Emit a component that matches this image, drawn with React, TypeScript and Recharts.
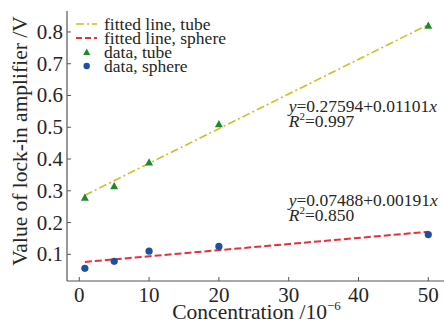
import React from 'react';
import { ComposedChart, Line, Scatter, XAxis, YAxis, ReferenceDot } from 'recharts';

const tubeData = [
  { x: 0.8, y: 0.279 },
  { x: 5, y: 0.315 },
  { x: 10, y: 0.39 },
  { x: 20, y: 0.51 },
  { x: 50, y: 0.82 },
];
const sphereData = [
  { x: 0.8, y: 0.056 },
  { x: 5, y: 0.078 },
  { x: 10, y: 0.11 },
  { x: 20, y: 0.125 },
  { x: 50, y: 0.162 },
];
const tubeFit = [
  { x: 0.8, y: 0.286 },
  { x: 50, y: 0.823 },
];
const sphereFit = [
  { x: 0.8, y: 0.076 },
  { x: 50, y: 0.171 },
];
const xTicks = [0, 10, 20, 30, 40, 50];
const yTicks = [0.1, 0.2, 0.3, 0.4, 0.5, 0.6, 0.7, 0.8];
const tubeEq = { eq: '0.27594+0.01101', r2: '0.997', x: 30, y: 0.548 };
const sphereEq = { eq: '0.07488+0.00191', r2: '0.850', x: 30, y: 0.251 };
const legendItems = [
  { label: 'fitted line, tube', kind: 'dashdot' },
  { label: 'fitted line, sphere', kind: 'dash' },
  { label: 'data, tube', kind: 'tri' },
  { label: 'data, sphere', kind: 'dot' },
];

const FONT = "'Liberation Serif', serif";
const AXIS = '#555';
const TEXT = '#262626';
const TUBE_LINE = '#c9c21e';
const SPHERE_LINE = '#e8303c';
const TUBE_MARK = '#1e8a2e';
const SPHERE_MARK = '#1f4fa3';

const XTick = (props: any) => {
  const { x, y, payload } = props;
  return (
    <g>
      <line x1={x} x2={x} y1={y} y2={y - 4} stroke={AXIS} strokeWidth={1} />
      <text x={x} y={y + 21} textAnchor="middle" fontFamily={FONT} fontSize={21} fill={TEXT}>
        {payload.value}
      </text>
    </g>
  );
};

const YTick = (props: any) => {
  const { x, y, payload } = props;
  return (
    <g>
      <line x1={x} x2={x + 4} y1={y} y2={y} stroke={AXIS} strokeWidth={1} />
      <text x={x - 4} y={y + 7} textAnchor="end" fontFamily={FONT} fontSize={21} fill={TEXT}>
        {payload.value.toFixed(1)}
      </text>
    </g>
  );
};

const Triangle = (props: any) => {
  const { cx, cy } = props;
  const s = 4;
  return <polygon points={`${cx},${cy - s} ${cx - s},${cy + s * 0.8} ${cx + s},${cy + s * 0.8}`} fill={TUBE_MARK} />;
};
const Circle = (props: any) => {
  const { cx, cy } = props;
  return <circle cx={cx} cy={cy} r={3.6} fill={SPHERE_MARK} />;
};

const EqLabel = (info: { eq: string; r2: string }) => (props: any) => {
  const vb = props.viewBox || {};
  const x = vb.x + (vb.width || 0) / 2;
  const y = vb.y + (vb.height || 0) / 2;
  return (
    <g fontFamily={FONT} fontSize={17.5} fill={TEXT}>
      <text x={x} y={y}>
        <tspan fontStyle="italic">y</tspan>={info.eq}
        <tspan fontStyle="italic">x</tspan>
      </text>
      <text x={x} y={y + 15}>
        <tspan fontStyle="italic">R</tspan>
        <tspan fontSize={11} dy={-7}>2</tspan>
        <tspan dy={7}>={info.r2}</tspan>
      </text>
    </g>
  );
};

const LegendBox = () => (
  <div
    style={{
      position: 'absolute',
      left: 72,
      top: 17,
      fontFamily: FONT,
      fontSize: 17.5,
      color: TEXT,
      pointerEvents: 'none',
    }}
  >
    {legendItems.map((it) => (
      <div key={it.label} style={{ height: 14, lineHeight: '14px', display: 'flex', alignItems: 'center' }}>
        <svg width={32} height={14} style={{ display: 'block', flex: 'none' }}>
          {it.kind === 'dashdot' && (
            <line x1={4} x2={25} y1={7} y2={7} stroke={TUBE_LINE} strokeWidth={1.6} strokeDasharray="8 3 2 3" />
          )}
          {it.kind === 'dash' && (
            <line x1={4} x2={25} y1={7} y2={7} stroke={SPHERE_LINE} strokeWidth={1.8} strokeDasharray="6 3" />
          )}
          {it.kind === 'tri' && <polygon points="14.7,3.5 11.2,10 18.2,10" fill={TUBE_MARK} />}
          {it.kind === 'dot' && <circle cx={14.7} cy={7} r={3.2} fill={SPHERE_MARK} />}
        </svg>
        <span style={{ whiteSpace: 'nowrap' }}>{it.label}</span>
      </div>
    ))}
  </div>
);

export default function App() {
  return (
    <div style={{ position: 'absolute', left: 0, top: 0, width: 445, height: 324, background: '#fff' }}>
      <ComposedChart width={445} height={324} margin={{ top: 11, right: 1, bottom: 0, left: 0 }}>
        <XAxis
          dataKey="x"
          type="number"
          domain={[-1.76, 52.25]}
          ticks={xTicks}
          height={43}
          tickSize={0}
          tickMargin={0}
          tickLine={false}
          tick={<XTick />}
          axisLine={{ stroke: AXIS, strokeWidth: 1.2 }}
          allowDataOverflow
          label={{
            content: (p: any) => {
              const vb = p.viewBox;
              return (
                <text x={vb.x + vb.width / 2 + 1} y={319} textAnchor="middle" fontFamily={FONT} fontSize={21.5} fill={TEXT}>
                  Concentration /10
                  <tspan fontSize={13} dy={-9}>−6</tspan>
                </text>
              );
            },
          }}
        />
        <XAxis
          xAxisId="top"
          orientation="top"
          type="number"
          domain={[-1.76, 52.25]}
          height={0}
          tick={false}
          tickLine={false}
          axisLine={{ stroke: AXIS, strokeWidth: 1.2 }}
        />
        <YAxis
          type="number"
          dataKey="y"
          domain={[0.016, 0.866]}
          ticks={yTicks}
          width={67}
          tickSize={0}
          tickMargin={0}
          tickLine={false}
          tick={<YTick />}
          axisLine={{ stroke: AXIS, strokeWidth: 1.2 }}
          allowDataOverflow
          label={{
            content: (p: any) => {
              const vb = p.viewBox;
              const cy = vb.y + vb.height / 2 - 5;
              return (
                <text
                  x={27}
                  y={cy}
                  transform={`rotate(-90, 27, ${cy})`}
                  textAnchor="middle"
                  fontFamily={FONT}
                  fontSize={21.5}
                  fill={TEXT}
                >
                  Value of lock-in amplifier /V
                </text>
              );
            },
          }}
        />
        <Line
          data={tubeFit}
          dataKey="y"
          stroke={TUBE_LINE}
          strokeWidth={1.6}
          strokeDasharray="8 3 2 3"
          dot={false}
          activeDot={false}
          isAnimationActive={false}
        />
        <Line
          data={sphereFit}
          dataKey="y"
          stroke={SPHERE_LINE}
          strokeWidth={2}
          strokeDasharray="7 3"
          dot={false}
          activeDot={false}
          isAnimationActive={false}
        />
        <Scatter data={tubeData} dataKey="y" shape={<Triangle />} isAnimationActive={false} />
        <Scatter data={sphereData} dataKey="y" shape={<Circle />} isAnimationActive={false} />
        <ReferenceDot x={tubeEq.x} y={tubeEq.y} r={0} fill="none" stroke="none" label={EqLabel(tubeEq)} />
        <ReferenceDot x={sphereEq.x} y={sphereEq.y} r={0} fill="none" stroke="none" label={EqLabel(sphereEq)} />
      </ComposedChart>
      <LegendBox />
    </div>
  );
}
